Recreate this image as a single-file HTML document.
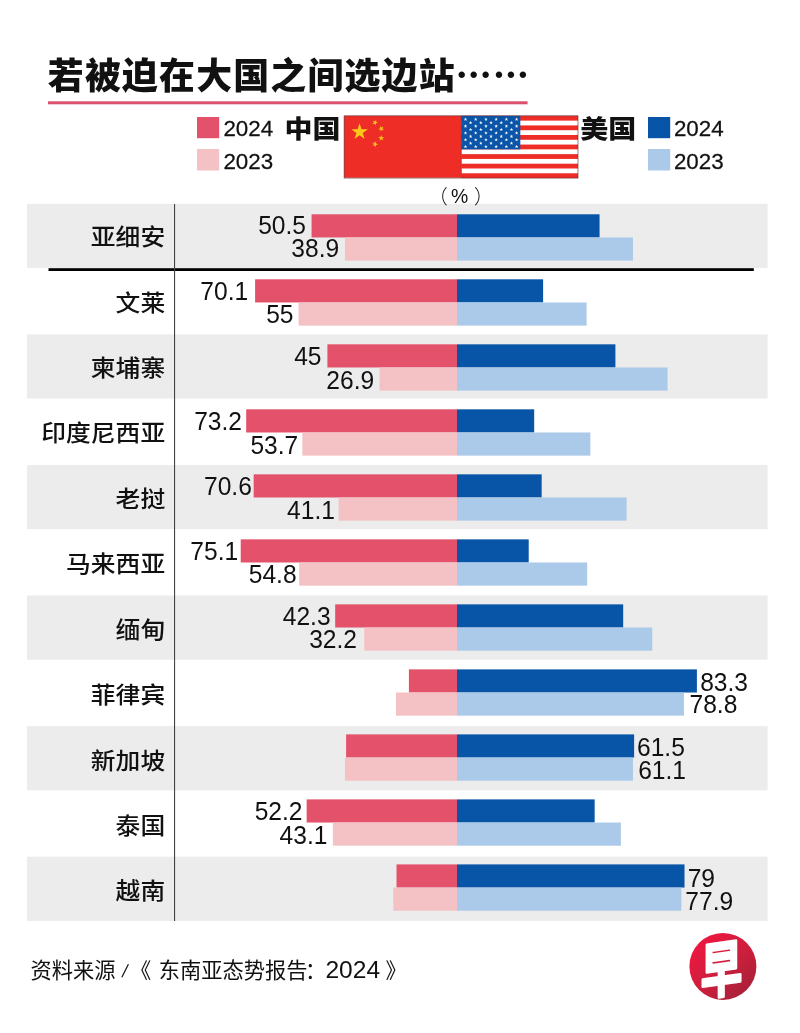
<!DOCTYPE html>
<html lang="zh-CN"><head><meta charset="utf-8"><title>若被迫在大国之间选边站</title>
<style>
html,body{margin:0;padding:0;background:#fff;}
svg{display:block;}
text{font-family:"Liberation Sans","Noto Sans CJK SC",sans-serif;fill:#111;}
.cn{font-family:"Liberation Sans","Noto Sans CJK SC",sans-serif;}
.el{font-family:"Noto Sans CJK SC",sans-serif;}
.num{font-size:25.8px;}
.lab{font-size:24.8px;font-weight:500;}
.leg{font-size:21.5px;stroke:#111;stroke-width:0.25px;}
</style></head><body>
<svg width="800" height="1033" viewBox="0 0 800 1033">
<defs>
<linearGradient id="lg" x1="0.15" y1="0.1" x2="0.85" y2="0.9"><stop offset="0" stop-color="#ee1740"/><stop offset="0.5" stop-color="#cf1f3d"/><stop offset="1" stop-color="#a92038"/></linearGradient>
</defs>
<rect width="800" height="1033" fill="#fff"/>

<text class="cn" x="47.8" y="89.3" font-size="35.9" font-weight="900" letter-spacing="1.2" fill="#0a0a0a">若被迫在大国之间选边站<tspan class="el">……</tspan></text>
<rect x="48" y="101.3" width="479.6" height="3" fill="#dc506d"/>
<rect x="197" y="117" width="22.2" height="21.2" fill="#e3516b"/>
<rect x="197" y="149" width="22.2" height="21.5" fill="#f4c1c4"/>
<text class="leg" transform="translate(223.4,136.4) scale(1.04,1)">2024</text>
<text class="leg" transform="translate(223.4,168.9) scale(1.04,1)">2023</text>
<text class="cn" transform="translate(284.6,138) scale(1.1,1)" font-size="25.4" font-weight="900" fill="#0a0a0a">中国</text>
<text class="cn" transform="translate(580.2,138) scale(1.1,1)" font-size="25.4" font-weight="900" fill="#0a0a0a">美国</text>
<rect x="648" y="117" width="22.2" height="21.2" fill="#0855a7"/>
<rect x="648" y="149" width="22.2" height="21.5" fill="#abc9e9"/>
<text class="leg" transform="translate(673.9,136.4) scale(1.04,1)">2024</text>
<text class="leg" transform="translate(673.9,168.9) scale(1.04,1)">2023</text>
<rect x="344.1" y="115.85" width="117.3" height="61.9" fill="#ee2d27"/>
<polygon points="0.000,-1.000 0.225,-0.309 0.951,-0.309 0.363,0.118 0.588,0.809 0.000,0.382 -0.588,0.809 -0.363,0.118 -0.951,-0.309 -0.225,-0.309" transform="translate(359.58,132.02) scale(8.67)" fill="#fbc81a"/>
<polygon points="0.000,-1.000 0.225,-0.309 0.951,-0.309 0.363,0.118 0.588,0.809 0.000,0.382 -0.588,0.809 -0.363,0.118 -0.951,-0.309 -0.225,-0.309" transform="translate(375.05,122.54) rotate(239.0) scale(3.09)" fill="#fbc81a"/>
<polygon points="0.000,-1.000 0.225,-0.309 0.951,-0.309 0.363,0.118 0.588,0.809 0.000,0.382 -0.588,0.809 -0.363,0.118 -0.951,-0.309 -0.225,-0.309" transform="translate(381.24,128.73) rotate(261.9) scale(3.09)" fill="#fbc81a"/>
<polygon points="0.000,-1.000 0.225,-0.309 0.951,-0.309 0.363,0.118 0.588,0.809 0.000,0.382 -0.588,0.809 -0.363,0.118 -0.951,-0.309 -0.225,-0.309" transform="translate(381.24,138.01) rotate(-74.1) scale(3.09)" fill="#fbc81a"/>
<polygon points="0.000,-1.000 0.225,-0.309 0.951,-0.309 0.363,0.118 0.588,0.809 0.000,0.382 -0.588,0.809 -0.363,0.118 -0.951,-0.309 -0.225,-0.309" transform="translate(375.05,144.20) rotate(-51.3) scale(3.09)" fill="#fbc81a"/>
<rect x="461.4" y="115.85" width="116.6" height="62.2" fill="#fff"/>
<rect x="461.4" y="115.85" width="116.6" height="4.78" fill="#ee2d27"/>
<rect x="461.4" y="125.42" width="116.6" height="4.78" fill="#ee2d27"/>
<rect x="461.4" y="134.99" width="116.6" height="4.78" fill="#ee2d27"/>
<rect x="461.4" y="144.56" width="116.6" height="4.78" fill="#ee2d27"/>
<rect x="461.4" y="154.13" width="116.6" height="4.78" fill="#ee2d27"/>
<rect x="461.4" y="163.70" width="116.6" height="4.78" fill="#ee2d27"/>
<rect x="461.4" y="173.27" width="116.6" height="4.78" fill="#ee2d27"/>
<rect x="461.4" y="115.85" width="58.9" height="33.49" fill="#0b55a8"/>
<polygon points="0.000,-1.000 0.225,-0.309 0.951,-0.309 0.363,0.118 0.588,0.809 0.000,0.382 -0.588,0.809 -0.363,0.118 -0.951,-0.309 -0.225,-0.309" transform="translate(465.50,119.35) scale(1.9)" fill="#fff"/>
<polygon points="0.000,-1.000 0.225,-0.309 0.951,-0.309 0.363,0.118 0.588,0.809 0.000,0.382 -0.588,0.809 -0.363,0.118 -0.951,-0.309 -0.225,-0.309" transform="translate(475.72,119.35) scale(1.9)" fill="#fff"/>
<polygon points="0.000,-1.000 0.225,-0.309 0.951,-0.309 0.363,0.118 0.588,0.809 0.000,0.382 -0.588,0.809 -0.363,0.118 -0.951,-0.309 -0.225,-0.309" transform="translate(485.94,119.35) scale(1.9)" fill="#fff"/>
<polygon points="0.000,-1.000 0.225,-0.309 0.951,-0.309 0.363,0.118 0.588,0.809 0.000,0.382 -0.588,0.809 -0.363,0.118 -0.951,-0.309 -0.225,-0.309" transform="translate(496.16,119.35) scale(1.9)" fill="#fff"/>
<polygon points="0.000,-1.000 0.225,-0.309 0.951,-0.309 0.363,0.118 0.588,0.809 0.000,0.382 -0.588,0.809 -0.363,0.118 -0.951,-0.309 -0.225,-0.309" transform="translate(506.38,119.35) scale(1.9)" fill="#fff"/>
<polygon points="0.000,-1.000 0.225,-0.309 0.951,-0.309 0.363,0.118 0.588,0.809 0.000,0.382 -0.588,0.809 -0.363,0.118 -0.951,-0.309 -0.225,-0.309" transform="translate(516.60,119.35) scale(1.9)" fill="#fff"/>
<polygon points="0.000,-1.000 0.225,-0.309 0.951,-0.309 0.363,0.118 0.588,0.809 0.000,0.382 -0.588,0.809 -0.363,0.118 -0.951,-0.309 -0.225,-0.309" transform="translate(470.61,122.76) scale(1.9)" fill="#fff"/>
<polygon points="0.000,-1.000 0.225,-0.309 0.951,-0.309 0.363,0.118 0.588,0.809 0.000,0.382 -0.588,0.809 -0.363,0.118 -0.951,-0.309 -0.225,-0.309" transform="translate(480.83,122.76) scale(1.9)" fill="#fff"/>
<polygon points="0.000,-1.000 0.225,-0.309 0.951,-0.309 0.363,0.118 0.588,0.809 0.000,0.382 -0.588,0.809 -0.363,0.118 -0.951,-0.309 -0.225,-0.309" transform="translate(491.05,122.76) scale(1.9)" fill="#fff"/>
<polygon points="0.000,-1.000 0.225,-0.309 0.951,-0.309 0.363,0.118 0.588,0.809 0.000,0.382 -0.588,0.809 -0.363,0.118 -0.951,-0.309 -0.225,-0.309" transform="translate(501.27,122.76) scale(1.9)" fill="#fff"/>
<polygon points="0.000,-1.000 0.225,-0.309 0.951,-0.309 0.363,0.118 0.588,0.809 0.000,0.382 -0.588,0.809 -0.363,0.118 -0.951,-0.309 -0.225,-0.309" transform="translate(511.49,122.76) scale(1.9)" fill="#fff"/>
<polygon points="0.000,-1.000 0.225,-0.309 0.951,-0.309 0.363,0.118 0.588,0.809 0.000,0.382 -0.588,0.809 -0.363,0.118 -0.951,-0.309 -0.225,-0.309" transform="translate(465.50,126.17) scale(1.9)" fill="#fff"/>
<polygon points="0.000,-1.000 0.225,-0.309 0.951,-0.309 0.363,0.118 0.588,0.809 0.000,0.382 -0.588,0.809 -0.363,0.118 -0.951,-0.309 -0.225,-0.309" transform="translate(475.72,126.17) scale(1.9)" fill="#fff"/>
<polygon points="0.000,-1.000 0.225,-0.309 0.951,-0.309 0.363,0.118 0.588,0.809 0.000,0.382 -0.588,0.809 -0.363,0.118 -0.951,-0.309 -0.225,-0.309" transform="translate(485.94,126.17) scale(1.9)" fill="#fff"/>
<polygon points="0.000,-1.000 0.225,-0.309 0.951,-0.309 0.363,0.118 0.588,0.809 0.000,0.382 -0.588,0.809 -0.363,0.118 -0.951,-0.309 -0.225,-0.309" transform="translate(496.16,126.17) scale(1.9)" fill="#fff"/>
<polygon points="0.000,-1.000 0.225,-0.309 0.951,-0.309 0.363,0.118 0.588,0.809 0.000,0.382 -0.588,0.809 -0.363,0.118 -0.951,-0.309 -0.225,-0.309" transform="translate(506.38,126.17) scale(1.9)" fill="#fff"/>
<polygon points="0.000,-1.000 0.225,-0.309 0.951,-0.309 0.363,0.118 0.588,0.809 0.000,0.382 -0.588,0.809 -0.363,0.118 -0.951,-0.309 -0.225,-0.309" transform="translate(516.60,126.17) scale(1.9)" fill="#fff"/>
<polygon points="0.000,-1.000 0.225,-0.309 0.951,-0.309 0.363,0.118 0.588,0.809 0.000,0.382 -0.588,0.809 -0.363,0.118 -0.951,-0.309 -0.225,-0.309" transform="translate(470.61,129.58) scale(1.9)" fill="#fff"/>
<polygon points="0.000,-1.000 0.225,-0.309 0.951,-0.309 0.363,0.118 0.588,0.809 0.000,0.382 -0.588,0.809 -0.363,0.118 -0.951,-0.309 -0.225,-0.309" transform="translate(480.83,129.58) scale(1.9)" fill="#fff"/>
<polygon points="0.000,-1.000 0.225,-0.309 0.951,-0.309 0.363,0.118 0.588,0.809 0.000,0.382 -0.588,0.809 -0.363,0.118 -0.951,-0.309 -0.225,-0.309" transform="translate(491.05,129.58) scale(1.9)" fill="#fff"/>
<polygon points="0.000,-1.000 0.225,-0.309 0.951,-0.309 0.363,0.118 0.588,0.809 0.000,0.382 -0.588,0.809 -0.363,0.118 -0.951,-0.309 -0.225,-0.309" transform="translate(501.27,129.58) scale(1.9)" fill="#fff"/>
<polygon points="0.000,-1.000 0.225,-0.309 0.951,-0.309 0.363,0.118 0.588,0.809 0.000,0.382 -0.588,0.809 -0.363,0.118 -0.951,-0.309 -0.225,-0.309" transform="translate(511.49,129.58) scale(1.9)" fill="#fff"/>
<polygon points="0.000,-1.000 0.225,-0.309 0.951,-0.309 0.363,0.118 0.588,0.809 0.000,0.382 -0.588,0.809 -0.363,0.118 -0.951,-0.309 -0.225,-0.309" transform="translate(465.50,132.99) scale(1.9)" fill="#fff"/>
<polygon points="0.000,-1.000 0.225,-0.309 0.951,-0.309 0.363,0.118 0.588,0.809 0.000,0.382 -0.588,0.809 -0.363,0.118 -0.951,-0.309 -0.225,-0.309" transform="translate(475.72,132.99) scale(1.9)" fill="#fff"/>
<polygon points="0.000,-1.000 0.225,-0.309 0.951,-0.309 0.363,0.118 0.588,0.809 0.000,0.382 -0.588,0.809 -0.363,0.118 -0.951,-0.309 -0.225,-0.309" transform="translate(485.94,132.99) scale(1.9)" fill="#fff"/>
<polygon points="0.000,-1.000 0.225,-0.309 0.951,-0.309 0.363,0.118 0.588,0.809 0.000,0.382 -0.588,0.809 -0.363,0.118 -0.951,-0.309 -0.225,-0.309" transform="translate(496.16,132.99) scale(1.9)" fill="#fff"/>
<polygon points="0.000,-1.000 0.225,-0.309 0.951,-0.309 0.363,0.118 0.588,0.809 0.000,0.382 -0.588,0.809 -0.363,0.118 -0.951,-0.309 -0.225,-0.309" transform="translate(506.38,132.99) scale(1.9)" fill="#fff"/>
<polygon points="0.000,-1.000 0.225,-0.309 0.951,-0.309 0.363,0.118 0.588,0.809 0.000,0.382 -0.588,0.809 -0.363,0.118 -0.951,-0.309 -0.225,-0.309" transform="translate(516.60,132.99) scale(1.9)" fill="#fff"/>
<polygon points="0.000,-1.000 0.225,-0.309 0.951,-0.309 0.363,0.118 0.588,0.809 0.000,0.382 -0.588,0.809 -0.363,0.118 -0.951,-0.309 -0.225,-0.309" transform="translate(470.61,136.40) scale(1.9)" fill="#fff"/>
<polygon points="0.000,-1.000 0.225,-0.309 0.951,-0.309 0.363,0.118 0.588,0.809 0.000,0.382 -0.588,0.809 -0.363,0.118 -0.951,-0.309 -0.225,-0.309" transform="translate(480.83,136.40) scale(1.9)" fill="#fff"/>
<polygon points="0.000,-1.000 0.225,-0.309 0.951,-0.309 0.363,0.118 0.588,0.809 0.000,0.382 -0.588,0.809 -0.363,0.118 -0.951,-0.309 -0.225,-0.309" transform="translate(491.05,136.40) scale(1.9)" fill="#fff"/>
<polygon points="0.000,-1.000 0.225,-0.309 0.951,-0.309 0.363,0.118 0.588,0.809 0.000,0.382 -0.588,0.809 -0.363,0.118 -0.951,-0.309 -0.225,-0.309" transform="translate(501.27,136.40) scale(1.9)" fill="#fff"/>
<polygon points="0.000,-1.000 0.225,-0.309 0.951,-0.309 0.363,0.118 0.588,0.809 0.000,0.382 -0.588,0.809 -0.363,0.118 -0.951,-0.309 -0.225,-0.309" transform="translate(511.49,136.40) scale(1.9)" fill="#fff"/>
<polygon points="0.000,-1.000 0.225,-0.309 0.951,-0.309 0.363,0.118 0.588,0.809 0.000,0.382 -0.588,0.809 -0.363,0.118 -0.951,-0.309 -0.225,-0.309" transform="translate(465.50,139.81) scale(1.9)" fill="#fff"/>
<polygon points="0.000,-1.000 0.225,-0.309 0.951,-0.309 0.363,0.118 0.588,0.809 0.000,0.382 -0.588,0.809 -0.363,0.118 -0.951,-0.309 -0.225,-0.309" transform="translate(475.72,139.81) scale(1.9)" fill="#fff"/>
<polygon points="0.000,-1.000 0.225,-0.309 0.951,-0.309 0.363,0.118 0.588,0.809 0.000,0.382 -0.588,0.809 -0.363,0.118 -0.951,-0.309 -0.225,-0.309" transform="translate(485.94,139.81) scale(1.9)" fill="#fff"/>
<polygon points="0.000,-1.000 0.225,-0.309 0.951,-0.309 0.363,0.118 0.588,0.809 0.000,0.382 -0.588,0.809 -0.363,0.118 -0.951,-0.309 -0.225,-0.309" transform="translate(496.16,139.81) scale(1.9)" fill="#fff"/>
<polygon points="0.000,-1.000 0.225,-0.309 0.951,-0.309 0.363,0.118 0.588,0.809 0.000,0.382 -0.588,0.809 -0.363,0.118 -0.951,-0.309 -0.225,-0.309" transform="translate(506.38,139.81) scale(1.9)" fill="#fff"/>
<polygon points="0.000,-1.000 0.225,-0.309 0.951,-0.309 0.363,0.118 0.588,0.809 0.000,0.382 -0.588,0.809 -0.363,0.118 -0.951,-0.309 -0.225,-0.309" transform="translate(516.60,139.81) scale(1.9)" fill="#fff"/>
<polygon points="0.000,-1.000 0.225,-0.309 0.951,-0.309 0.363,0.118 0.588,0.809 0.000,0.382 -0.588,0.809 -0.363,0.118 -0.951,-0.309 -0.225,-0.309" transform="translate(470.61,143.22) scale(1.9)" fill="#fff"/>
<polygon points="0.000,-1.000 0.225,-0.309 0.951,-0.309 0.363,0.118 0.588,0.809 0.000,0.382 -0.588,0.809 -0.363,0.118 -0.951,-0.309 -0.225,-0.309" transform="translate(480.83,143.22) scale(1.9)" fill="#fff"/>
<polygon points="0.000,-1.000 0.225,-0.309 0.951,-0.309 0.363,0.118 0.588,0.809 0.000,0.382 -0.588,0.809 -0.363,0.118 -0.951,-0.309 -0.225,-0.309" transform="translate(491.05,143.22) scale(1.9)" fill="#fff"/>
<polygon points="0.000,-1.000 0.225,-0.309 0.951,-0.309 0.363,0.118 0.588,0.809 0.000,0.382 -0.588,0.809 -0.363,0.118 -0.951,-0.309 -0.225,-0.309" transform="translate(501.27,143.22) scale(1.9)" fill="#fff"/>
<polygon points="0.000,-1.000 0.225,-0.309 0.951,-0.309 0.363,0.118 0.588,0.809 0.000,0.382 -0.588,0.809 -0.363,0.118 -0.951,-0.309 -0.225,-0.309" transform="translate(511.49,143.22) scale(1.9)" fill="#fff"/>
<polygon points="0.000,-1.000 0.225,-0.309 0.951,-0.309 0.363,0.118 0.588,0.809 0.000,0.382 -0.588,0.809 -0.363,0.118 -0.951,-0.309 -0.225,-0.309" transform="translate(465.50,146.63) scale(1.9)" fill="#fff"/>
<polygon points="0.000,-1.000 0.225,-0.309 0.951,-0.309 0.363,0.118 0.588,0.809 0.000,0.382 -0.588,0.809 -0.363,0.118 -0.951,-0.309 -0.225,-0.309" transform="translate(475.72,146.63) scale(1.9)" fill="#fff"/>
<polygon points="0.000,-1.000 0.225,-0.309 0.951,-0.309 0.363,0.118 0.588,0.809 0.000,0.382 -0.588,0.809 -0.363,0.118 -0.951,-0.309 -0.225,-0.309" transform="translate(485.94,146.63) scale(1.9)" fill="#fff"/>
<polygon points="0.000,-1.000 0.225,-0.309 0.951,-0.309 0.363,0.118 0.588,0.809 0.000,0.382 -0.588,0.809 -0.363,0.118 -0.951,-0.309 -0.225,-0.309" transform="translate(496.16,146.63) scale(1.9)" fill="#fff"/>
<polygon points="0.000,-1.000 0.225,-0.309 0.951,-0.309 0.363,0.118 0.588,0.809 0.000,0.382 -0.588,0.809 -0.363,0.118 -0.951,-0.309 -0.225,-0.309" transform="translate(506.38,146.63) scale(1.9)" fill="#fff"/>
<polygon points="0.000,-1.000 0.225,-0.309 0.951,-0.309 0.363,0.118 0.588,0.809 0.000,0.382 -0.588,0.809 -0.363,0.118 -0.951,-0.309 -0.225,-0.309" transform="translate(516.60,146.63) scale(1.9)" fill="#fff"/>
<rect x="344.1" y="115.85" width="233.89999999999998" height="62.2" fill="none" stroke="#5a2a2a" stroke-width="0.6"/>
<line x1="461.4" y1="115.85" x2="461.4" y2="178.05" stroke="#5a2a2a" stroke-width="0.6"/>
<rect x="27" y="203.80" width="740.6" height="64.2" fill="#ececec"/>
<rect x="27" y="334.38" width="740.6" height="64.2" fill="#ececec"/>
<rect x="27" y="464.96" width="740.6" height="64.2" fill="#ececec"/>
<rect x="27" y="595.54" width="740.6" height="64.2" fill="#ececec"/>
<rect x="27" y="726.12" width="740.6" height="64.2" fill="#ececec"/>
<rect x="27" y="856.70" width="740.6" height="64.2" fill="#ececec"/>
<rect x="48.5" y="268.2" width="705.3" height="2.8" fill="#000"/>
<rect x="174" y="204" width="1.1" height="717" fill="#444"/>
<text class="cn" x="428.3" y="203.8" font-size="19.5" font-weight="300">（</text>
<text x="450.9" y="203" font-size="19.4">%</text>
<text class="cn" x="473.9" y="203.8" font-size="19.5" font-weight="300">）</text>
<rect x="311.56" y="214.30" width="145.44" height="23.15" fill="#e3516b"/>
<rect x="344.97" y="237.45" width="112.03" height="23.15" fill="#f4c1c4"/>
<rect x="457.0" y="214.30" width="142.56" height="23.15" fill="#0855a7"/>
<rect x="457.0" y="237.45" width="175.97" height="23.15" fill="#abc9e9"/>
<text class="num" text-anchor="end" transform="translate(306.03,234.00) scale(0.953,1)">50.5</text>
<text class="num" text-anchor="end" transform="translate(339.16,257.00) scale(0.953,1)">38.9</text>
<text class="cn lab" text-anchor="end" transform="translate(165.2,245.20) scale(1,0.93)">亚细安</text>
<rect x="255.11" y="279.31" width="201.89" height="23.15" fill="#e3516b"/>
<rect x="298.60" y="302.46" width="158.40" height="23.15" fill="#f4c1c4"/>
<rect x="457.0" y="279.31" width="86.11" height="23.15" fill="#0855a7"/>
<rect x="457.0" y="302.46" width="129.60" height="23.15" fill="#abc9e9"/>
<text class="num" text-anchor="end" transform="translate(248.20,300.00) scale(0.953,1)">70.1</text>
<text class="num" text-anchor="end" transform="translate(293.53,323.25) scale(0.953,1)">55</text>
<text class="cn lab" text-anchor="end" transform="translate(165.2,310.62) scale(1,0.93)">文莱</text>
<rect x="327.40" y="344.32" width="129.60" height="23.15" fill="#e3516b"/>
<rect x="379.53" y="367.47" width="77.47" height="23.15" fill="#f4c1c4"/>
<rect x="457.0" y="344.32" width="158.40" height="23.15" fill="#0855a7"/>
<rect x="457.0" y="367.47" width="210.53" height="23.15" fill="#abc9e9"/>
<text class="num" text-anchor="end" transform="translate(321.53,365.00) scale(0.953,1)">45</text>
<text class="num" text-anchor="end" transform="translate(374.16,388.75) scale(0.953,1)">26.9</text>
<text class="cn lab" text-anchor="end" transform="translate(165.2,376.04) scale(1,0.93)">柬埔寨</text>
<rect x="246.18" y="409.33" width="210.82" height="23.15" fill="#e3516b"/>
<rect x="302.34" y="432.48" width="154.66" height="23.15" fill="#f4c1c4"/>
<rect x="457.0" y="409.33" width="77.18" height="23.15" fill="#0855a7"/>
<rect x="457.0" y="432.48" width="133.34" height="23.15" fill="#abc9e9"/>
<text class="num" text-anchor="end" transform="translate(241.99,430.25) scale(0.953,1)">73.2</text>
<text class="num" text-anchor="end" transform="translate(298.24,453.75) scale(0.953,1)">53.7</text>
<text class="cn lab" text-anchor="end" transform="translate(165.2,441.46) scale(1,0.93)">印度尼西亚</text>
<rect x="253.67" y="474.34" width="203.33" height="23.15" fill="#e3516b"/>
<rect x="338.63" y="497.49" width="118.37" height="23.15" fill="#f4c1c4"/>
<rect x="457.0" y="474.34" width="84.67" height="23.15" fill="#0855a7"/>
<rect x="457.0" y="497.49" width="169.63" height="23.15" fill="#abc9e9"/>
<text class="num" text-anchor="end" transform="translate(251.83,495.25) scale(0.953,1)">70.6</text>
<text class="num" text-anchor="end" transform="translate(334.95,518.75) scale(0.953,1)">41.1</text>
<text class="cn lab" text-anchor="end" transform="translate(165.2,506.88) scale(1,0.93)">老挝</text>
<rect x="240.71" y="539.35" width="216.29" height="23.15" fill="#e3516b"/>
<rect x="299.18" y="562.50" width="157.82" height="23.15" fill="#f4c1c4"/>
<rect x="457.0" y="539.35" width="71.71" height="23.15" fill="#0855a7"/>
<rect x="457.0" y="562.50" width="130.18" height="23.15" fill="#abc9e9"/>
<text class="num" text-anchor="end" transform="translate(238.20,560.25) scale(0.953,1)">75.1</text>
<text class="num" text-anchor="end" transform="translate(296.57,583.25) scale(0.953,1)">54.8</text>
<text class="cn lab" text-anchor="end" transform="translate(165.2,572.30) scale(1,0.93)">马来西亚</text>
<rect x="335.18" y="604.36" width="121.82" height="23.15" fill="#e3516b"/>
<rect x="364.26" y="627.51" width="92.74" height="23.15" fill="#f4c1c4"/>
<rect x="457.0" y="604.36" width="166.18" height="23.15" fill="#0855a7"/>
<rect x="457.0" y="627.51" width="195.26" height="23.15" fill="#abc9e9"/>
<text class="num" text-anchor="end" transform="translate(330.58,625.25) scale(0.953,1)">42.3</text>
<text class="num" text-anchor="end" transform="translate(356.99,648.25) scale(0.953,1)">32.2</text>
<text class="cn lab" text-anchor="end" transform="translate(165.2,637.72) scale(1,0.93)">缅甸</text>
<rect x="408.90" y="669.37" width="48.10" height="23.15" fill="#e3516b"/>
<rect x="395.94" y="692.52" width="61.06" height="23.15" fill="#f4c1c4"/>
<rect x="457.0" y="669.37" width="239.90" height="23.15" fill="#0855a7"/>
<rect x="457.0" y="692.52" width="226.94" height="23.15" fill="#abc9e9"/>
<text class="num" transform="translate(700.18,690.80) scale(0.953,1)">83.3</text>
<text class="num" transform="translate(689.49,713.30) scale(0.953,1)">78.8</text>
<text class="cn lab" text-anchor="end" transform="translate(165.2,703.14) scale(1,0.93)">菲律宾</text>
<rect x="346.12" y="734.38" width="110.88" height="23.15" fill="#e3516b"/>
<rect x="344.97" y="757.53" width="112.03" height="23.15" fill="#f4c1c4"/>
<rect x="457.0" y="734.38" width="177.12" height="23.15" fill="#0855a7"/>
<rect x="457.0" y="757.53" width="175.97" height="23.15" fill="#abc9e9"/>
<text class="num" transform="translate(637.00,756.00) scale(0.953,1)">61.5</text>
<text class="num" transform="translate(638.15,779.00) scale(0.953,1)">61.1</text>
<text class="cn lab" text-anchor="end" transform="translate(165.2,768.56) scale(1,0.93)">新加坡</text>
<rect x="306.66" y="799.39" width="150.34" height="23.15" fill="#e3516b"/>
<rect x="332.87" y="822.54" width="124.13" height="23.15" fill="#f4c1c4"/>
<rect x="457.0" y="799.39" width="137.66" height="23.15" fill="#0855a7"/>
<rect x="457.0" y="822.54" width="163.87" height="23.15" fill="#abc9e9"/>
<text class="num" text-anchor="end" transform="translate(302.49,820.25) scale(0.953,1)">52.2</text>
<text class="num" text-anchor="end" transform="translate(327.45,843.75) scale(0.953,1)">43.1</text>
<text class="cn lab" text-anchor="end" transform="translate(165.2,833.98) scale(1,0.93)">泰国</text>
<rect x="396.52" y="864.40" width="60.48" height="23.15" fill="#e3516b"/>
<rect x="393.35" y="887.55" width="63.65" height="23.15" fill="#f4c1c4"/>
<rect x="457.0" y="864.40" width="227.52" height="23.15" fill="#0855a7"/>
<rect x="457.0" y="887.55" width="224.35" height="23.15" fill="#abc9e9"/>
<text class="num" transform="translate(687.64,886.50) scale(0.953,1)">79</text>
<text class="num" transform="translate(685.34,909.50) scale(0.953,1)">77.9</text>
<text class="cn lab" text-anchor="end" transform="translate(165.2,899.40) scale(1,0.93)">越南</text>
<text class="cn" x="30.6" y="978.3" font-size="21.25">资料来源</text>
<text transform="translate(121.2,976.9) skewX(-13)" font-size="17.5">/</text>
<text class="cn" x="129.9" y="978.3" font-size="21.25">《</text>
<text class="cn" x="158.8" y="978.3" font-size="21.25">东南亚态势报告</text>
<text class="cn" x="305.1" y="978.3" font-size="21.25">：</text>
<text transform="translate(325.4,978.0999999999999) scale(1.06,1)" font-size="23.2">2024</text>
<text class="cn" x="385.5" y="978.3" font-size="21.25">》</text>
<circle cx="722.9" cy="966.4" r="33.5" fill="url(#lg)"/>
<text class="cn" transform="translate(721.5,991.5) skewY(-8) scale(0.9,1.31)" text-anchor="middle" font-size="46" font-weight="700" style="fill:#fff;stroke:#fff;stroke-width:2.2px;stroke-linejoin:round">早</text>
</svg>
</body></html>
